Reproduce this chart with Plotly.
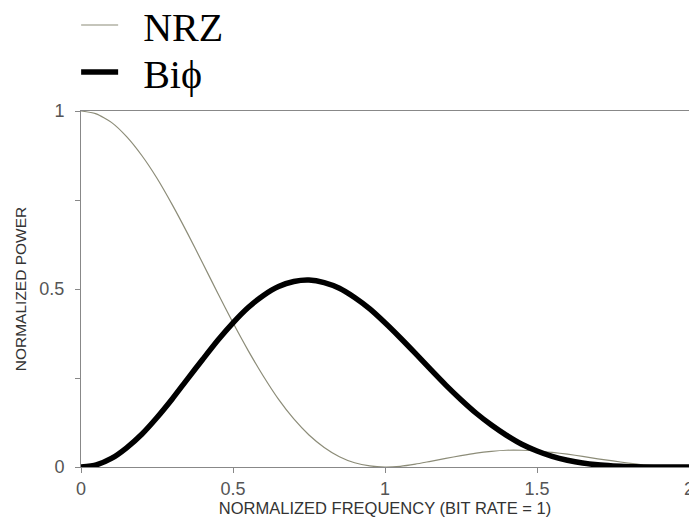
import plotly.graph_objects as go

freq = [0.00, 0.05, 0.10, 0.15, 0.20, 0.25, 0.30, 0.35, 0.40, 0.45,
        0.50, 0.55, 0.60, 0.65, 0.70, 0.75, 0.80, 0.85, 0.90, 0.95,
        1.00, 1.05, 1.10, 1.15, 1.20, 1.25, 1.30, 1.35, 1.40, 1.45,
        1.50, 1.55, 1.60, 1.65, 1.70, 1.75, 1.80, 1.85, 1.90, 1.95, 2.00]

nrz = [1.000, 0.992, 0.968, 0.928, 0.875, 0.811, 0.737, 0.657, 0.573, 0.488,
       0.405, 0.327, 0.255, 0.190, 0.135, 0.090, 0.055, 0.029, 0.012, 0.003,
       0.000, 0.002, 0.008, 0.016, 0.024, 0.032, 0.039, 0.044, 0.047, 0.047,
       0.045, 0.041, 0.036, 0.030, 0.023, 0.017, 0.011, 0.006, 0.003, 0.001, 0.000]

biphase = [0.000, 0.006, 0.024, 0.054, 0.092, 0.139, 0.191, 0.247, 0.302, 0.356,
           0.405, 0.448, 0.482, 0.507, 0.521, 0.525, 0.518, 0.502, 0.476, 0.444,
           0.405, 0.363, 0.319, 0.274, 0.230, 0.189, 0.151, 0.118, 0.089, 0.064,
           0.045, 0.030, 0.019, 0.011, 0.006, 0.003, 0.001, 0.000, 0.000, 0.000, 0.000]

series_names = ["NRZ", "Biϕ"]

x_ticks = [0, 0.5, 1, 1.5, 2]
x_tick_text = ["0", "0.5", "1", "1.5", "2"]
y_ticks = [0, 0.25, 0.5, 0.75, 1]
y_tick_text = ["0", "", "0.5", "", "1"]

gap = "\u2002"  # en space between legend symbol and label

fig = go.Figure()
fig.add_trace(go.Scatter(x=freq, y=nrz, mode="lines", name=gap + series_names[0],
                         legend="legend",
                         line=dict(color="#8c8c78", width=1.2, shape="spline", smoothing=0.6)))
fig.add_trace(go.Scatter(x=freq, y=biphase, mode="lines", name=gap + series_names[1],
                         legend="legend2",
                         line=dict(color="#000000", width=5.5, shape="spline", smoothing=0.6)))

sans = "Liberation Sans, Arial, sans-serif"
axis_font = dict(family=sans, size=18, color="#555555")
legend_font = dict(family="Liberation Serif, Times New Roman, serif", size=40, color="#000000")
fig.update_layout(
    width=689, height=518,
    margin=dict(l=81, r=0, t=111, b=51, autoexpand=False),
    paper_bgcolor="white", plot_bgcolor="white",
    showlegend=True,
    legend=dict(x=-0.008, y=1 - 25 / 518, yref="container", xanchor="left", yanchor="middle",
                font=legend_font, bgcolor="rgba(0,0,0,0)", itemwidth=37, borderwidth=0),
    legend2=dict(x=-0.008, y=1 - 72 / 518, yref="container", xanchor="left", yanchor="middle",
                 font=legend_font, bgcolor="rgba(0,0,0,0)", itemwidth=37, borderwidth=0),
    xaxis=dict(range=[0, 2], tickvals=x_ticks, ticktext=x_tick_text,
               showline=True, linecolor="#888888", linewidth=1, mirror=True,
               ticks="outside", ticklen=5, tickcolor="#888888", ticklabeloverflow="allow",
               showgrid=False, zeroline=False, tickfont=axis_font,
               title=dict(text="NORMALIZED FREQUENCY (BIT RATE = 1)", standoff=2,
                          font=dict(family=sans, size=16.5, color="#333333"))),
    yaxis=dict(range=[0, 1], tickvals=y_ticks, ticktext=y_tick_text,
               showline=True, linecolor="#888888", linewidth=1,
               ticks="outside", ticklen=5, tickcolor="#888888", ticklabelstandoff=7,
               showgrid=False, zeroline=False, tickfont=axis_font,
               title=dict(text="NORMALIZED POWER", standoff=8,
                          font=dict(family=sans, size=15.5, color="#333333"))),
)

fig.write_html("out.html", config={"displayModeBar": False},
               post_script="document.body.style.margin='0';")
